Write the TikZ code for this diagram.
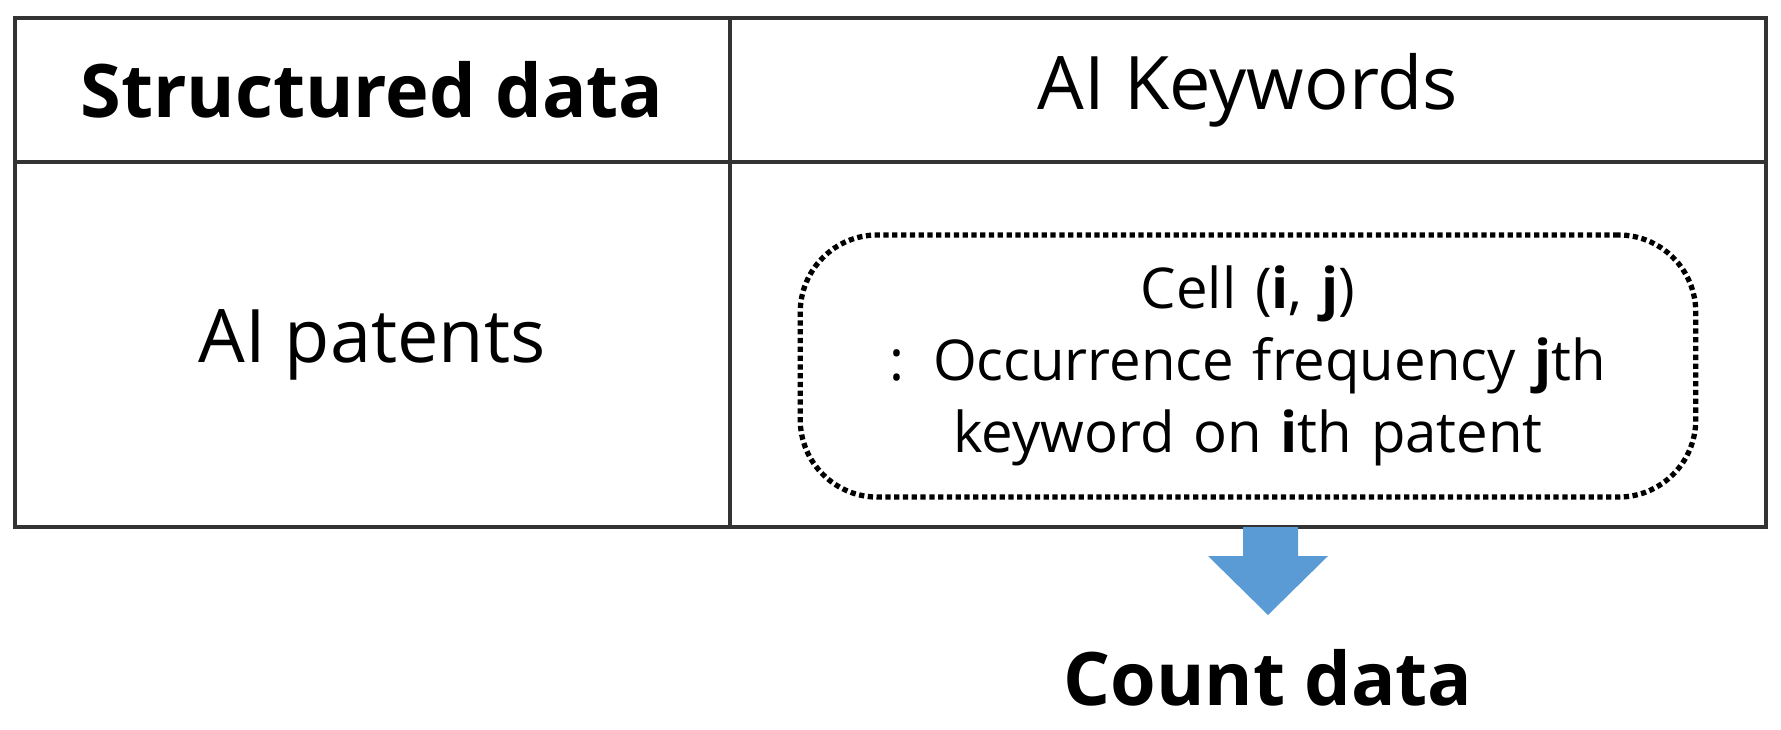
\documentclass[tikz,border=0pt]{standalone}
\usepackage{fontspec}
\setmainfont{Open Sans}
\definecolor{arrowblue}{HTML}{5B9BD5}
\begin{document}
\begin{tikzpicture}[x=0.01cm,y=-0.01cm,
  grid/.style={line width=1.2pt,draw=black!80},
  cell/.style={font=\fontsize{16}{20.5}\selectfont,align=center}]
\useasboundingbox (0,0) rectangle (1781,730);
\draw[grid] (15,18) rectangle (1766,527);
\draw[grid] (15,162) -- (1766,162);
\draw[grid] (730,18) -- (730,527);
\node[font=\fontsize{21}{25}\selectfont\bfseries] (sd) at (372,90) {Structured data};
\node[font=\fontsize{21}{25}\selectfont] (kw) at (1248,90) {AI Keywords};
\node[font=\fontsize{21}{25}\selectfont] (ap) at (372,345) {AI patents};
\node[cell,draw,densely dotted,line width=1.5pt,rounded corners=22pt,minimum width=8.95cm,
  text width=8.6cm,minimum height=2.62cm,inner sep=0pt] (c) at (1248,366)
  {Cell (\textbf{i}, \textbf{j})\\: Occurrence frequency \textbf{j}th\\keyword on \textbf{i}th patent};
\fill[arrowblue] (1243,527) -- (1298,527) -- (1298,556) -- (1328,556) -- (1268,615) -- (1208,556) -- (1243,556) -- cycle;
\node[font=\fontsize{21}{25}\selectfont\bfseries] (cd) at (1268,678) {Count data};
\end{tikzpicture}
\end{document}
